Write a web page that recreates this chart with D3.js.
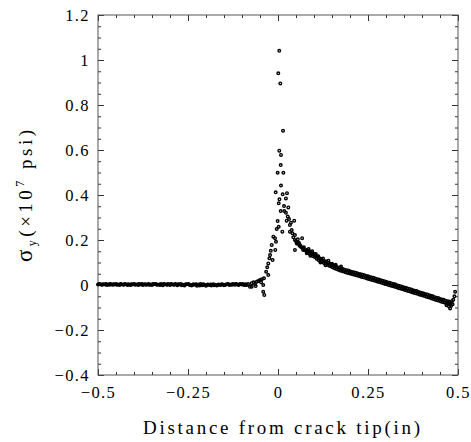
<!DOCTYPE html>
<html>
<head>
<meta charset="utf-8">
<script src="https://cdn.jsdelivr.net/npm/d3@7"></script>
<style>
  html, body { margin: 0; padding: 0; background: #fff; }
  svg { display: block; }
  .tick text { font-family: "Liberation Serif", "DejaVu Serif", serif; font-size: 16.5px; letter-spacing: 1.4px; fill: #000; }
</style>
</head>
<body>
<svg id="chart" width="471" height="442"></svg>
<script>
// ---------- data ----------
const xMajorTicks = [-0.5, -0.25, 0, 0.25, 0.5];
const xTickLabels = ["\u22120.5", "\u22120.25", "0", "0.25", "0.5"];
const yMajorTicks = [-0.4, -0.2, 0, 0.2, 0.4, 0.6, 0.8, 1, 1.2];
const yTickLabels = ["\u22120.4", "\u22120.2", "0", "0.2", "0.4", "0.6", "0.8", "1", "1.2"];

// flat band ahead of the crack tip
const leftBand = [
[-0.500,0.002],[-0.495,0.004],[-0.490,0.001],[-0.485,0.003],[-0.480,0.002],[-0.475,0.000],[-0.470,0.003],[-0.465,0.004],[-0.460,0.001],[-0.455,0.002],
[-0.450,0.004],[-0.445,0.002],[-0.440,0.000],[-0.435,0.003],[-0.430,0.001],[-0.425,0.004],[-0.420,0.002],[-0.415,0.003],[-0.410,0.000],[-0.405,0.002],
[-0.400,0.004],[-0.395,0.001],[-0.390,0.003],[-0.385,0.005],[-0.380,0.002],[-0.375,0.000],[-0.370,0.003],[-0.365,0.001],[-0.360,0.004],[-0.355,0.002],
[-0.350,0.000],[-0.345,0.003],[-0.340,0.005],[-0.335,0.001],[-0.330,0.002],[-0.325,0.004],[-0.320,-0.001],[-0.315,0.003],[-0.310,0.002],[-0.305,0.005],
[-0.300,0.000],[-0.295,0.003],[-0.290,0.001],[-0.285,0.004],[-0.280,-0.001],[-0.275,0.002],[-0.270,0.005],[-0.265,0.001],[-0.260,-0.002],[-0.255,0.003],
[-0.250,0.004],[-0.245,0.000],[-0.240,-0.002],[-0.235,0.003],[-0.230,0.001],[-0.225,-0.003],[-0.220,0.002],[-0.215,0.004],[-0.210,-0.001],[-0.205,0.001],
[-0.200,-0.003],[-0.195,0.002],[-0.190,0.000],[-0.185,-0.002],[-0.180,0.003],[-0.175,0.001],[-0.170,-0.002],[-0.165,0.002],[-0.160,0.000],[-0.155,0.003],
[-0.150,-0.001],[-0.145,0.002],[-0.140,0.004],[-0.135,0.000],[-0.130,0.002],[-0.125,0.005],[-0.120,0.001],[-0.115,0.003],[-0.110,0.000],[-0.105,0.004],
[-0.100,0.002],[-0.095,0.001],[-0.090,0.003]
];
const leftBandB = [
[-0.4975,0.003],[-0.4875,0.002],[-0.4775,0.004],[-0.4675,0.001],[-0.4575,0.003],[-0.4475,0.001],[-0.4375,0.004],[-0.4275,0.002],[-0.4175,0.000],[-0.4075,0.003],
[-0.3975,0.002],[-0.3875,0.000],[-0.3775,0.004],[-0.3675,0.002],[-0.3575,0.001],[-0.3475,0.004],[-0.3375,0.002],[-0.3275,0.000],[-0.3175,0.004],[-0.3075,0.001],
[-0.2975,0.004],[-0.2875,0.002],[-0.2775,0.003],[-0.2675,-0.001],[-0.2575,0.002],[-0.2475,0.003],[-0.2375,0.000],[-0.2275,0.003],[-0.2175,-0.002],[-0.2075,0.003],
[-0.1975,0.000],[-0.1875,0.002],[-0.1775,-0.001],[-0.1675,0.000],[-0.1575,0.002],[-0.1475,0.000],[-0.1375,0.003],[-0.1275,0.001],[-0.1175,0.004],[-0.1075,0.002],
[-0.0975,0.004],[-0.0925,0.000]
];

// scatter around the crack tip and the stress peak
const tipPoints = [
[-0.087,0.000],[-0.083,0.004],[-0.078,-0.008],[-0.073,0.008],[-0.073,-0.008],[-0.068,0.012],[-0.064,0.004],[-0.062,-0.004],
[-0.059,0.015],[-0.055,0.018],[-0.050,0.022],[-0.047,0.012],[-0.045,0.026],[-0.041,0.000],[-0.039,0.030],[-0.041,-0.030],[-0.038,-0.044],
[-0.033,0.059],[-0.027,0.044],[-0.030,0.079],[-0.027,0.096],[-0.024,0.119],[-0.015,0.111],[-0.022,0.133],[-0.020,0.152],
[-0.0075,0.156],[-0.0175,0.178],[-0.0056,0.192],[-0.0083,0.208],[-0.013,0.215],[-0.0036,0.249],[0.002,0.259],[-0.001,0.284],
[0.012,0.237],[0.002,0.363],[0.004,0.381],[0.0075,0.329],[-0.0064,0.412],[0.0083,0.442],[-0.001,0.499],[0.015,0.499],
[0.0075,0.533],[0.0083,0.578],[0.0036,0.597],[0.014,0.686],[0.0064,0.896],[0.0008,0.941],[0.0036,1.041],
[0.013,0.403],[0.025,0.408],[0.022,0.385],[0.0167,0.351],[0.0286,0.345],[0.0175,0.329],[0.022,0.321],[0.027,0.304],
[0.0306,0.293],[0.024,0.286],[0.045,0.286],[0.036,0.277],[0.033,0.267],[0.038,0.244],[0.033,0.237],[0.040,0.230],
[0.047,0.222],[0.0425,0.212],[0.055,0.203],[0.047,0.200],[0.067,0.208],[0.052,0.185],[0.061,0.178],[0.047,0.156],
[0.070,0.156],[0.080,0.141],[0.050,0.195],[0.053,0.190],[0.056,0.183],[0.058,0.188],[0.060,0.175],[0.063,0.172],
[0.065,0.168],[0.068,0.165],[0.070,0.162],[0.072,0.168],[0.075,0.155],[0.078,0.152]
];

// decaying band behind the peak (upper and lower edges of the band)
const decayUpper = [
[0.080,0.156],[0.085,0.151],[0.090,0.147],[0.095,0.141],[0.100,0.138],[0.105,0.131],[0.110,0.124],[0.115,0.119],[0.120,0.115],[0.125,0.109],
[0.130,0.106],[0.135,0.104],[0.140,0.098],[0.145,0.095],[0.150,0.090],[0.155,0.087],[0.160,0.084],[0.165,0.079],[0.170,0.076],[0.175,0.075],
[0.180,0.071],[0.185,0.068],[0.190,0.066],[0.195,0.065],[0.200,0.061],[0.205,0.058],[0.210,0.057],[0.215,0.055],[0.220,0.052],[0.225,0.049],
[0.230,0.048],[0.235,0.046],[0.240,0.043],[0.245,0.040],[0.250,0.039],[0.255,0.036],[0.260,0.033],[0.265,0.032],[0.270,0.029],[0.275,0.026],
[0.280,0.025],[0.285,0.021],[0.290,0.019],[0.295,0.017],[0.300,0.014],[0.305,0.011],[0.310,0.010],[0.315,0.007],[0.320,0.004],[0.325,0.003],
[0.330,-0.001],[0.335,-0.003],[0.340,-0.005],[0.345,-0.008],[0.350,-0.011],[0.355,-0.012],[0.360,-0.016],[0.365,-0.018],[0.370,-0.020],[0.375,-0.023],
[0.380,-0.026],[0.385,-0.027],[0.390,-0.031],[0.395,-0.033],[0.400,-0.035],[0.405,-0.038],[0.410,-0.041],[0.415,-0.042],[0.420,-0.046],[0.425,-0.048],
[0.430,-0.050],[0.435,-0.054],[0.440,-0.057],[0.445,-0.058],[0.450,-0.062],[0.455,-0.064],[0.460,-0.066],[0.465,-0.070],[0.470,-0.072],[0.475,-0.073]
];
const decayLower = [
[0.0825,0.143],[0.0875,0.139],[0.0925,0.134],[0.0975,0.128],[0.1025,0.124],[0.1075,0.117],[0.1125,0.111],[0.1175,0.106],[0.1225,0.102],[0.1275,0.098],
[0.1325,0.094],[0.1375,0.090],[0.1425,0.086],[0.1475,0.082],[0.1525,0.078],[0.1575,0.075],[0.1625,0.071],[0.1675,0.068],[0.1725,0.065],[0.1775,0.062],
[0.1825,0.060],[0.1875,0.057],[0.1925,0.055],[0.1975,0.052],[0.2025,0.050],[0.2075,0.048],[0.2125,0.046],[0.2175,0.043],[0.2225,0.041],[0.2275,0.039],
[0.2325,0.036],[0.2375,0.034],[0.2425,0.032],[0.2475,0.029],[0.2525,0.027],[0.2575,0.025],[0.2625,0.022],[0.2675,0.020],[0.2725,0.018],[0.2775,0.015],
[0.2825,0.013],[0.2875,0.010],[0.2925,0.008],[0.2975,0.005],[0.3025,0.003],[0.3075,0.000],[0.3125,-0.002],[0.3175,-0.004],[0.3225,-0.007],[0.3275,-0.009],
[0.3325,-0.012],[0.3375,-0.014],[0.3425,-0.017],[0.3475,-0.019],[0.3525,-0.022],[0.3575,-0.024],[0.3625,-0.027],[0.3675,-0.029],[0.3725,-0.032],[0.3775,-0.034],
[0.3825,-0.037],[0.3875,-0.039],[0.3925,-0.042],[0.3975,-0.044],[0.4025,-0.047],[0.4075,-0.049],[0.4125,-0.052],[0.4175,-0.054],[0.4225,-0.057],[0.4275,-0.060],
[0.4325,-0.062],[0.4375,-0.065],[0.4425,-0.068],[0.4475,-0.070],[0.4525,-0.073],[0.4575,-0.075],[0.4625,-0.078],[0.4675,-0.081],[0.4725,-0.083],[0.4775,-0.085]
];
// scattered points within / around the band
const decayScatter = [
[0.085,0.160],[0.090,0.130],[0.095,0.150],[0.105,0.138],[0.112,0.128],[0.118,0.100],[0.125,0.118],[0.132,0.088],
[0.140,0.108],[0.150,0.095],[0.160,0.090],[0.175,0.082],
[0.468,-0.090],[0.470,-0.080],[0.472,-0.086],[0.475,-0.095],[0.476,-0.078],[0.478,-0.104],[0.480,-0.080],[0.481,-0.092],
[0.483,-0.072],[0.485,-0.085],[0.487,-0.066],[0.490,-0.050],[0.492,-0.030]
];

// ---------- chart ----------
const svg = d3.select("#chart");
const plotLeft = 98, plotRight = 458, plotTop = 15, plotBottom = 375;

const x = d3.scaleLinear().domain([-0.5, 0.5]).range([plotLeft, plotRight]);
const y = d3.scaleLinear().domain([-0.4, 1.2]).range([plotBottom, plotTop]);

const xMinor = d3.range(-0.5, 0.5001, 0.05).filter(v => !xMajorTicks.some(t => Math.abs(t - v) < 1e-6));
const yMinor = d3.range(-0.4, 1.2001, 0.05).filter(v => !yMajorTicks.some(t => Math.abs(t - v) < 1e-6));

const axisColor = "#333";

function styleAxis(g) {
  g.select(".domain").remove();
  g.selectAll(".tick line").attr("stroke", axisColor).attr("stroke-width", 1);
}

// major ticks with labels
svg.append("g").attr("transform", `translate(0,${plotBottom})`)
  .call(d3.axisBottom(x).tickValues(xMajorTicks).tickSize(-6).tickPadding(11)
        .tickFormat((d, i) => xTickLabels[i]))
  .call(styleAxis);
svg.append("g").attr("transform", `translate(${plotLeft},0)`)
  .call(d3.axisLeft(y).tickValues(yMajorTicks).tickSize(-6).tickPadding(8)
        .tickFormat((d, i) => yTickLabels[i]))
  .call(styleAxis);
// opposite sides (ticks only)
svg.append("g").attr("transform", `translate(0,${plotTop})`)
  .call(d3.axisTop(x).tickValues(xMajorTicks).tickSize(-6).tickFormat(""))
  .call(styleAxis);
svg.append("g").attr("transform", `translate(${plotRight},0)`)
  .call(d3.axisRight(y).tickValues(yMajorTicks).tickSize(-6).tickFormat(""))
  .call(styleAxis);
// minor ticks
svg.append("g").attr("transform", `translate(0,${plotBottom})`)
  .call(d3.axisBottom(x).tickValues(xMinor).tickSize(-3).tickFormat("")).call(styleAxis);
svg.append("g").attr("transform", `translate(0,${plotTop})`)
  .call(d3.axisTop(x).tickValues(xMinor).tickSize(-3).tickFormat("")).call(styleAxis);
svg.append("g").attr("transform", `translate(${plotLeft},0)`)
  .call(d3.axisLeft(y).tickValues(yMinor).tickSize(-3).tickFormat("")).call(styleAxis);
svg.append("g").attr("transform", `translate(${plotRight},0)`)
  .call(d3.axisRight(y).tickValues(yMinor).tickSize(-3).tickFormat("")).call(styleAxis);

// frame
svg.append("rect")
  .attr("x", x(-0.5)).attr("y", y(1.2))
  .attr("width", x(0.5) - x(-0.5)).attr("height", y(-0.4) - y(1.2))
  .attr("fill", "none").attr("stroke", "#555").attr("stroke-width", 1);

// points
const allPoints = [].concat(leftBand, leftBandB, tipPoints, decayUpper, decayLower, decayScatter);
svg.append("g")
  .selectAll("circle")
  .data(allPoints)
  .join("circle")
  .attr("cx", d => x(d[0]))
  .attr("cy", d => y(d[1]))
  .attr("r", 1.3)
  .attr("fill", "none")
  .attr("stroke", "#000")
  .attr("stroke-width", 1.4);

// x-axis title
svg.append("text")
  .attr("x", 143).attr("y", 434)
  .attr("font-family", "Liberation Serif, DejaVu Serif, serif")
  .attr("font-size", 19)
  .attr("textLength", 277)
  .attr("lengthAdjust", "spacing")
  .attr("fill", "#000")
  .text("Distance from crack tip(in)");

// y-axis title
const yl = svg.append("text")
  .attr("transform", "translate(32,262) rotate(-90)")
  .attr("font-family", "Liberation Serif, DejaVu Serif, serif")
  .attr("font-size", 19)
  .attr("textLength", 132)
  .attr("lengthAdjust", "spacing")
  .attr("fill", "#000");
yl.append("tspan").attr("font-size", 23).text("\u03c3");
yl.append("tspan").attr("font-size", 12).attr("dy", 4).text("y");
yl.append("tspan").attr("dy", -4).text("(\u00d710");
yl.append("tspan").attr("font-size", 12).attr("dy", -8).text("7");
yl.append("tspan").attr("dy", 8).text(" psi)");
</script>
</body>
</html>
